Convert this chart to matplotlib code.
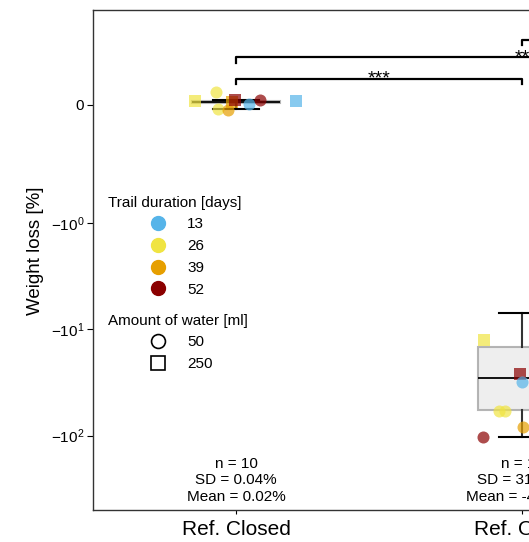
import numpy as np
import matplotlib.pyplot as plt
from matplotlib.lines import Line2D
from matplotlib.ticker import NullLocator

plt.rcParams['font.family'] = ['Liberation Sans', 'DejaVu Sans']

groups = ["Ref. Closed", "Ref. Open"]
durations = [13, 26, 39, 52]
duration_colors = ["#56B4E9", "#F0E442", "#E69F00", "#8B0000"]
water = [50, 250]
water_markers = ["o", "s"]

# single samples: group, jitter, trail duration, water amount, weight loss [%]
pt_group = [0, 0, 0, 0, 0, 0, 0, 0, 0, 1, 1, 1, 1, 1, 1, 1]
pt_jitter = [-0.143, -0.07, -0.063, -0.028, -0.014, -0.003, 0.045, 0.084, 0.21,
             -0.133, -0.007, 0.0, -0.08, -0.06, 0.003, -0.136]
pt_duration = [26, 26, 26, 39, 39, 52, 13, 52, 13,
               26, 52, 13, 26, 26, 39, 52]
pt_water = [250, 50, 50, 50, 250, 250, 50, 50, 250,
            250, 250, 50, 50, 50, 50, 50]
pt_loss = [0.034, 0.11, -0.034, -0.042, 0.025, 0.042, 0.008, 0.042, 0.034,
           -12.7, -26.6, -31.0, -58.1, -58.1, -82.3, -102.0]

# box summaries
box_whislo = [-0.034, -102.0]
box_q1 = [0.017, -56.9]
box_med = [0.025, -29.0]
box_q3 = [0.034, -14.8]
box_whishi = [0.042, -7.07]

stat_n = ["10", "10"]
stat_sd = ["0.04", "31.27"]
stat_mean = ["0.02", "-41.65"]

# significance brackets
br_start = [0, 0, 1]
br_end = [1, 2, 3]
br_y = [0.22, 0.40, 0.55]
br_label = ["***", "**", "***"]

fig = plt.figure(figsize=(5.29, 5.42), dpi=100)
ax = fig.add_axes([93 / 529, 32 / 542, 4 * 286 / 529, 500 / 542])

stats = []
for i in range(len(groups)):
    stats.append(dict(whislo=box_whislo[i], q1=box_q1[i], med=box_med[i],
                      q3=box_q3[i], whishi=box_whishi[i], fliers=[]))
ax.bxp(stats, positions=range(len(groups)), widths=0.31, capwidths=0.16,
       patch_artist=True, showfliers=False,
       boxprops=dict(facecolor="#EBEBEB", edgecolor="#A8A8A8", linewidth=1.5, alpha=0.85),
       medianprops=dict(color="black", linewidth=1.3),
       whiskerprops=dict(color="#333333", linewidth=1.5),
       capprops=dict(color="black", linewidth=1.5))

for g, j, d, w, v in zip(pt_group, pt_jitter, pt_duration, pt_water, pt_loss):
    ax.scatter(g + j, v, s=75, marker=water_markers[water.index(w)],
               color=duration_colors[durations.index(d)], alpha=0.7,
               linewidths=0, zorder=3)

for s, e, y, lab in zip(br_start, br_end, br_y, br_label):
    ax.plot([s, s, e, e], [y - 0.05, y, y, y - 0.05], color="black", lw=1.6, zorder=4)
    ax.text((s + e) / 2, y - 0.045, lab, ha="center", va="baseline", fontsize=14)

for i in range(len(groups)):
    ax.text(i, 0.012, f"n = {stat_n[i]}\nSD = {stat_sd[i]}%\nMean = {stat_mean[i]}%",
            transform=ax.get_xaxis_transform(), ha="center", va="bottom",
            fontsize=11, linespacing=1.25)

ax.set_yscale("symlog", linthresh=1)
ax.set_ylim(-500, 0.8)
ax.set_yticks([-100, -10, -1, 0])
ax.yaxis.set_minor_locator(NullLocator())
ax.set_xlim(-0.5, 3.5)
ax.set_xticks(range(len(groups)))
ax.set_xticklabels(groups, fontsize=15)
ax.tick_params(axis="y", labelsize=11, length=4, width=0.8, pad=2)
ax.tick_params(axis="x", length=3, width=0.8, pad=4)
for sp in ax.spines.values():
    sp.set_color("#333333")
    sp.set_linewidth(1.0)
ax.set_ylabel("Weight loss [%]", fontsize=13.5)
ax.yaxis.set_label_coords((44 - 93) / 1144, (510 - 251) / 500)

h1 = [Line2D([], [], marker="o", ls="", color=c, markersize=10) for c in duration_colors]
fig.legend(h1, [str(d) for d in durations], loc="upper left",
           bbox_to_anchor=(143 / 529, 1 - 217 / 542), frameon=False,
           borderpad=0, borderaxespad=0, handlelength=2, handletextpad=0.9,
           labelspacing=0.52, fontsize=11)
h2 = [Line2D([], [], marker=m, ls="", markerfacecolor="white", markeredgecolor="black",
             markeredgewidth=1.2, markersize=10) for m in water_markers]
fig.legend(h2, [str(w) for w in water], loc="upper left",
           bbox_to_anchor=(143 / 529, 1 - 335 / 542), frameon=False,
           borderpad=0, borderaxespad=0, handlelength=2, handletextpad=0.9,
           labelspacing=0.52, fontsize=11)
fig.text(108 / 529, 1 - 203 / 542, "Trail duration [days]", ha="left", va="center", fontsize=11)
fig.text(108 / 529, 1 - 321 / 542, "Amount of water [ml]", ha="left", va="center", fontsize=11)

fig.savefig("out.png", dpi=100)
